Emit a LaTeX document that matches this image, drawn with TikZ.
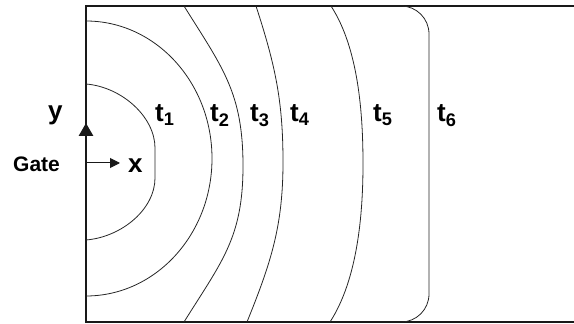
\documentclass[tikz,border=0pt]{standalone}
\usepackage{fontspec}
\setmainfont{Liberation Sans}
\usetikzlibrary{arrows.meta}

\begin{document}
\begin{tikzpicture}[x=1pt, y=1pt,
    frame/.style={line width=2.8pt, black!90},
    front/.style={line width=0.8pt, black!85},
    lbl/.style={font=\fontsize{26}{30}\selectfont\bfseries, anchor=base west, inner sep=0pt},
    gatelbl/.style={font=\fontsize{21}{25}\selectfont\bfseries, anchor=base west, inner sep=0pt}]
  \useasboundingbox (0,0) rectangle (574,324);

  % Cavity walls (open to the right)
  \coordinate (tl) at (86,318);
  \coordinate (bl) at (86,2);
  \draw[frame] (574,318) -- (tl) -- (bl) -- (574,2);

  % Axes at the gate
  \coordinate (ya) at (86,180);
  \coordinate (yb) at (86,201);
  \draw[frame, -{Triangle[length=13pt,width=14pt]}] (ya) -- (yb);
  \coordinate (xa) at (87,161);
  \coordinate (xb) at (120,161);
  \draw[line width=1pt, black!90, -{Triangle[length=10pt,width=10pt]}] (xa) -- (xb);
  \node[lbl] (ylbl) at (48,204) {y};
  \node[lbl] (xlbl) at (128,151) {x};
  \node[gatelbl] (gate) at (13,152) {Gate};

  % Flow fronts
  \draw[front] (86,240) .. controls (122,237) and (155,207) .. (155,176)
               -- (155,146) .. controls (155,115) and (122,87) .. (86,84);
  \draw[front] (86,303) arc[start angle=90, end angle=-90, x radius=126, y radius=137.5];
  \draw[front, looseness=1.1] (184,318) to[out=-58,in=90] (243,158) to[out=-90,in=58] (184,2);
  \draw[front] (256,318) to[out=-72,in=90] (283,162) to[out=-90,in=68] (247,2);
  \draw[front, looseness=0.8] (331,318) to[out=-57,in=90] (363,160) to[out=-90,in=57] (330,2);
  \draw[front, rounded corners=28] (380,318) -- (429,318) -- (429,2) -- (380,2);

  % Front labels
  \foreach \n/\x in {1/155, 2/210, 3/250, 4/290, 5/373, 6/437}{
    \node[lbl] (t\n) at (\x,202) {t\textsubscript{\n}};
  }
\end{tikzpicture}
\end{document}
